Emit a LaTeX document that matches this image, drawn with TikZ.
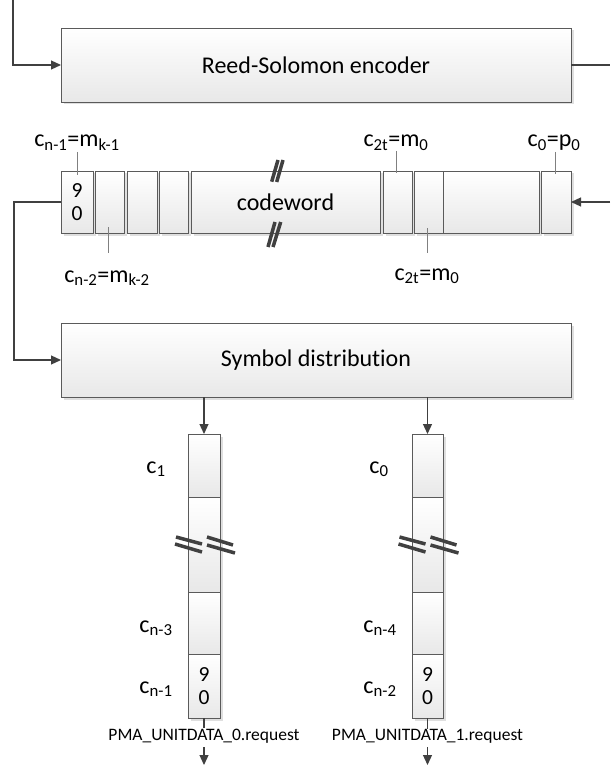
\documentclass[tikz,border=0pt]{standalone}
\usepackage{fontspec}
\setmainfont[Ligatures=NoCommon]{Carlito}
\usetikzlibrary{arrows.meta,shadows}
\definecolor{ln}{HTML}{404040}
\definecolor{bd}{HTML}{5A5A5A}
\definecolor{tk}{HTML}{808080}
\definecolor{bt}{HTML}{E8E8E8}
\begin{document}
\begin{tikzpicture}[x=1pt,y=-1pt,
  blk/.style={draw=bd, line width=0.9pt, top color=white, bottom color=bt,
    general shadow={fill=gray!25, shadow xshift=2.5pt, shadow yshift=-2.5pt},
    inner sep=0pt, outer sep=0pt, font=\fontsize{24}{28}\selectfont},
  cell/.style={blk, font=\fontsize{21.5}{23}\selectfont, align=center},
  con/.style={draw=ln, line width=1.2pt},
  arr/.style={con, -{Triangle[length=10pt,width=9pt]}},
  tick/.style={draw=tk, line width=0.9pt},
  lbl/.style={font=\fontsize{24}{28}\selectfont, inner sep=0pt, anchor=base},
  small/.style={font=\fontsize{17.5}{20}\selectfont, inner sep=0pt, anchor=base},
  brk/.style={draw=ln, line width=3.5pt},
]
\useasboundingbox (0,0) rectangle (610,767);

% Reed-Solomon encoder
\node[blk, minimum width=510pt, minimum height=74pt] (enc) at (316,65) {Reed-Solomon encoder};
\coordinate (tl) at (13,0);
\coordinate (tr) at (610,65);
\draw[arr] (tl) |- (enc.west);
\draw[con] (enc.east) -- (tr);

% codeword bar
\node[cell, minimum width=32pt, minimum height=62pt] (c1) at (77,202) {9\\0};
\node[cell, minimum width=29pt, minimum height=62pt] (c2) at (109.5,202) {};
\node[cell, minimum width=30pt, minimum height=62pt] (c3) at (142,202) {};
\node[cell, minimum width=29pt, minimum height=62pt] (c4) at (173.5,202) {};
\node[blk, minimum width=189pt, minimum height=62pt] (cw) at (285.5,202) {codeword};
\node[cell, minimum width=29pt, minimum height=62pt] (c6) at (397.5,202) {};
\node[cell, minimum width=29pt, minimum height=62pt] (c7) at (428.5,202) {};
\node[cell, minimum width=96pt, minimum height=62pt] (c8) at (491,202) {};
\node[cell, minimum width=30pt, minimum height=62pt] (c9) at (556,202) {};

% break marks in codeword
\draw[brk] (271.7,181.7) -- (278,160);
\draw[brk] (276.7,182) -- (283,160);
\draw[brk] (268,247) -- (275,222);
\draw[brk] (273,247) -- (280.7,222);

% labels of codeword
\node[lbl] (l1) at (77,147) {c\textsubscript{n-1}=m\textsubscript{k-1}};
\node[lbl] (l2) at (107,282) {c\textsubscript{n-2}=m\textsubscript{k-2}};
\node[lbl] (l3) at (396,147) {c\textsubscript{2t}=m\textsubscript{0}};
\node[lbl] (l4) at (554,147) {c\textsubscript{0}=p\textsubscript{0}};
\node[lbl] (l5) at (427,280) {c\textsubscript{2t}=m\textsubscript{0}};
\draw[tick] ([yshift=19pt]c1.north) -- ([yshift=-4pt]c1.north);
\draw[tick] ([xshift=-1.5pt,yshift=6pt]c2.south) -- ([xshift=-1.5pt,yshift=-20pt]c2.south);
\draw[tick] ([xshift=-1.5pt,yshift=20pt]c6.north) -- ([xshift=-1.5pt,yshift=-2pt]c6.north);
\draw[tick] ([xshift=-1pt,yshift=19pt]c9.north) -- ([xshift=-1pt,yshift=-3pt]c9.north);
\draw[tick] ([xshift=-1.5pt,yshift=5pt]c7.south) -- ([xshift=-1.5pt,yshift=-20pt]c7.south);

% connectors around codeword
\coordinate (rin) at (610,202);
\draw[arr] (rin) -- (c9.east);

% Symbol distribution
\node[blk, minimum width=510pt, minimum height=74pt] (sym) at (316,360) {Symbol distribution};
\draw[arr] (c1.west) -- ++(-47,0) |- (sym.west);

% column 0
\node[cell, minimum width=32pt, minimum height=63pt] (a1) at (204,465.5) {};
\node[cell, minimum width=32pt, minimum height=95pt] (a2) at (204,544.5) {};
\node[cell, minimum width=32pt, minimum height=62pt] (a3) at (204,623) {};
\node[cell, minimum width=32pt, minimum height=64pt] (a4) at (204,686) {9\\0};
% column 1
\node[cell, minimum width=31pt, minimum height=63pt] (b1) at (427.5,465.5) {};
\node[cell, minimum width=31pt, minimum height=95pt] (b2) at (427.5,544.5) {};
\node[cell, minimum width=31pt, minimum height=62pt] (b3) at (427.5,623) {};
\node[cell, minimum width=31pt, minimum height=64pt] (b4) at (427.5,686) {9\\0};

\draw[arr] (sym.south -| a1.north) -- (a1.north);
\draw[arr] (sym.south -| b1.north) -- (b1.north);

% break marks in columns
\foreach \n in {a2,b2}{
  \draw[brk] ([shift={(-28,-7.5)}]\n.center) -- ++(26,7);
  \draw[brk] ([shift={(-29,-0.5)}]\n.center) -- ++(27,8);
  \draw[brk] ([shift={(3,-7.5)}]\n.center) -- ++(26,8);
  \draw[brk] ([shift={(3,0.5)}]\n.center) -- ++(28,8);
}

% column labels
\node[lbl] (k1) at (156,473) {c\textsubscript{1}};
\node[lbl] (k2) at (156,632) {c\textsubscript{n-3}};
\node[lbl] (k3) at (156,693) {c\textsubscript{n-1}};
\node[lbl] (k4) at (379,473) {c\textsubscript{0}};
\node[lbl] (k5) at (380,632) {c\textsubscript{n-4}};
\node[lbl] (k6) at (380,693) {c\textsubscript{n-2}};

% outputs
\node[small] (p0) at (204,740) {PMA\_UNITDATA\_0.request};
\node[small] (p1) at (427.5,740) {PMA\_UNITDATA\_1.request};
\draw[con] (a4.south) -- (p0.north);
\draw[con] (b4.south) -- (p1.north);
\coordinate (e0) at (204,765);
\coordinate (e1) at (427.5,765);
\draw[arr] ([yshift=-4pt]p0.south) -- (e0);
\draw[arr] ([yshift=-4pt]p1.south) -- (e1);
\end{tikzpicture}
\end{document}
